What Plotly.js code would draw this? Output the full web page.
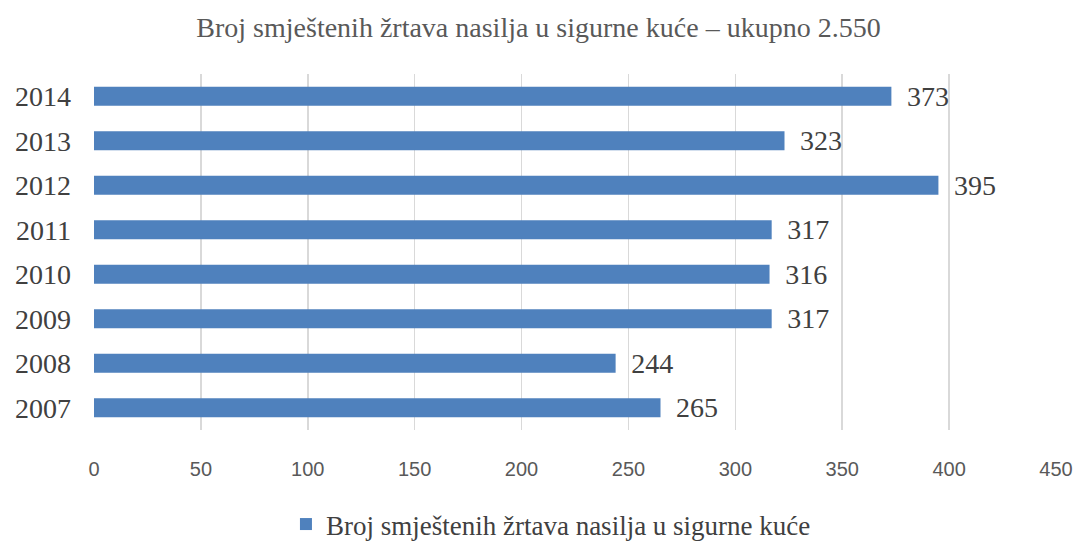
<!DOCTYPE html>
<html>
<head>
<meta charset="utf-8">
<script src="https://cdn.plot.ly/plotly-3.0.1.min.js"></script>
<style>body{margin:0;padding:0;background:#fff}#chart{width:1077px;height:549px}</style>
</head>
<body>
<div id="chart"></div>
<script>
const years = ['2007','2008','2009','2010','2011','2012','2013','2014'];
const values = [265, 244, 317, 316, 317, 395, 323, 373];
const seriesName = 'Broj smještenih žrtava nasilja u sigurne kuće';
const titleText = 'Broj smještenih žrtava nasilja u sigurne kuće – ukupno 2.550';
const xTicks = [0,50,100,150,200,250,300,350,400,450];

const serif = '"Liberation Serif", "DejaVu Serif", serif';
Plotly.newPlot('chart', [{
  type: 'bar',
  orientation: 'h',
  y: years,
  x: values,
  name: seriesName,
  marker: {color: '#4F81BD'},
  text: values.map(v => '\u00A0\u2009' + v),
  textposition: 'outside',
  constraintext: 'none',
  cliponaxis: false,
  textfont: {family: serif, size: 28, color: '#404040'},
  showlegend: true
}], {
  width: 1077, height: 549,
  margin: {l: 94, r: 21, t: 74, b: 119},
  paper_bgcolor: '#fff', plot_bgcolor: '#fff',
  bargap: 0.57,
  title: {text: titleText, x: 0.5, xanchor: 'center', y: 0.95, yanchor: 'middle',
          font: {family: serif, size: 28, color: '#595959'}},
  xaxis: {range: [0, 450], tickvals: xTicks, showgrid: true, gridcolor: '#D9D9D9', gridwidth: 1.5,
          zeroline: false, showline: false, ticks: '', ticklabelstandoff: 25,
          tickfont: {family: '"Liberation Sans", "DejaVu Sans", sans-serif', size: 20, color: '#595959'}},
  yaxis: {type: 'category', categoryorder: 'array', categoryarray: years, showgrid: false,
          zeroline: false, showline: false, ticks: '', ticklabelstandoff: 22,
          tickfont: {family: serif, size: 28, color: '#404040'}},
  legend: {orientation: 'h', x: 0.475, xanchor: 'center', yref: 'container', y: 0.0, yanchor: 'bottom',
           font: {family: serif, size: 27, color: '#404040'}},
  showlegend: true
}, {displayModeBar: false, staticPlot: true});
</script>
</body>
</html>
